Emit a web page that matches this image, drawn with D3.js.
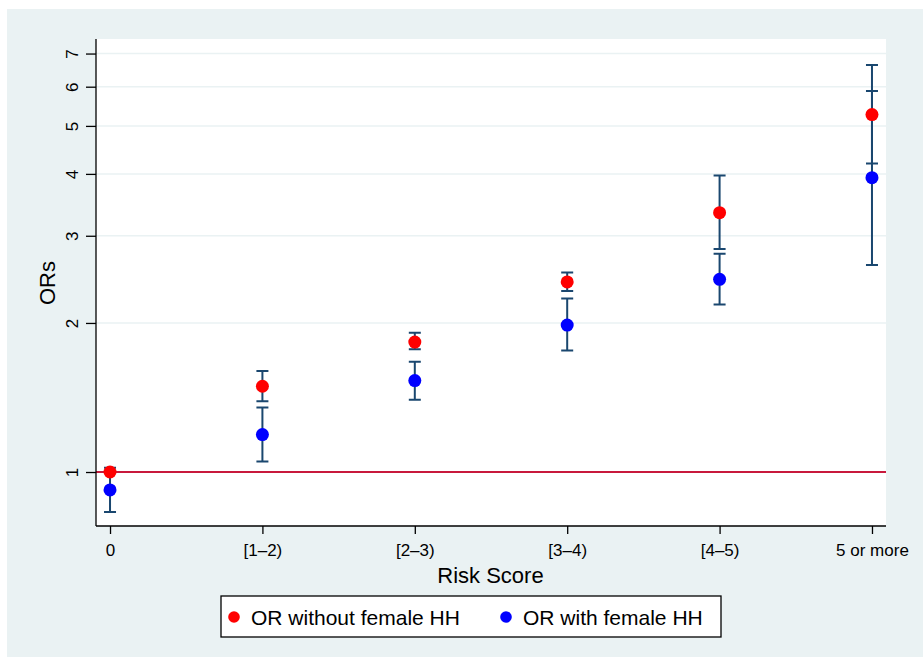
<!DOCTYPE html>
<meta charset="utf-8">
<style>
body { margin: 0; background: #fff; }
text { font-family: "Liberation Sans", Arial, Helvetica, sans-serif; fill: #000; }
.grid { stroke: #eaf2f3; stroke-width: 1.5px; }
.axisline { stroke: #000; stroke-width: 1.3px; }
.ref { stroke: #c8193c; stroke-width: 2px; }
.ci { stroke: #1a476f; stroke-width: 2px; fill: none; }
</style>
<body>
<script src="https://cdn.jsdelivr.net/npm/d3@7"></script>
<script>
var width = 923,
    height = 661;

// data
var categories = ["0", "[1\u20132)", "[2\u20133)", "[3\u20134)", "[4\u20135)", "5 or more"];
var orWithout   = [1.00, 1.49, 1.83, 2.42, 3.34, 5.27];
var loWithout   = [1.00, 1.39, 1.77, 2.32, 2.82, 4.20];
var hiWithout   = [1.00, 1.60, 1.91, 2.53, 3.97, 6.64];
var orWith      = [0.92, 1.19, 1.53, 1.98, 2.45, 3.93];
var loWith      = [0.83, 1.05, 1.40, 1.76, 2.18, 2.62];
var hiWith      = [1.02, 1.35, 1.67, 2.24, 2.76, 5.88];
var yTicks = [1, 2, 3, 4, 5, 6, 7];
var legendLabels = ["OR without female HH", "OR with female HH"];
var colors = ["#ff0000", "#0000ff"];

var plot = {left: 96, right: 886, top: 39, bottom: 526};

var x = d3.scaleLinear()
    .domain([-0.092, 5.092])
    .range([plot.left, plot.right]);

var y = d3.scaleLog()
    .domain([0.778, 7.49])
    .range([plot.bottom, plot.top]);

var svg = d3.select("body").append("svg")
    .attr("width", width)
    .attr("height", height);

// outer background
svg.append("rect")
    .attr("x", 7).attr("y", 9)
    .attr("width", width - 7).attr("height", 648)
    .attr("fill", "#eaf2f3");

svg.append("rect")
    .attr("x", plot.left).attr("y", plot.top)
    .attr("width", plot.right - plot.left)
    .attr("height", plot.bottom - plot.top)
    .attr("fill", "#fff");

// grid
svg.selectAll(".grid")
    .data(yTicks.filter(function(d) { return d > 1; }))
  .enter().append("line")
    .attr("class", "grid")
    .attr("x1", plot.left).attr("x2", plot.right)
    .attr("y1", function(d) { return y(d); })
    .attr("y2", function(d) { return y(d); });

// reference line at OR = 1
svg.append("line")
    .attr("class", "ref")
    .attr("x1", plot.left).attr("x2", plot.right)
    .attr("y1", y(1)).attr("y2", y(1));

// y axis
var yAxis = svg.append("g")
    .attr("transform", "translate(" + plot.left + ",0)")
    .call(d3.axisLeft(y).tickValues(yTicks).tickFormat(d3.format("d")).tickSize(10));
yAxis.select(".domain").remove();
yAxis.selectAll(".tick line").attr("stroke", "#000").attr("stroke-width", 1.3);
yAxis.selectAll(".tick text")
    .attr("transform", "rotate(-90)")
    .attr("x", 0).attr("y", -18).attr("dy", 0)
    .attr("text-anchor", "middle")
    .style("font-size", "17px");
svg.append("line")
    .attr("class", "axisline")
    .attr("x1", plot.left).attr("x2", plot.left)
    .attr("y1", plot.top).attr("y2", plot.bottom);

// x axis
var xAxis = svg.append("g")
    .attr("transform", "translate(0," + plot.bottom + ")")
    .call(d3.axisBottom(x).tickValues(d3.range(categories.length))
      .tickFormat(function(i) { return categories[i]; }).tickSize(8).tickPadding(6));
xAxis.select(".domain").remove();
xAxis.selectAll(".tick line").attr("stroke", "#000").attr("stroke-width", 1.3);
xAxis.selectAll(".tick text")
    .attr("dy", "0.95em")
    .style("font-size", "17px");
svg.append("line")
    .attr("class", "axisline")
    .attr("x1", plot.left).attr("x2", plot.right)
    .attr("y1", plot.bottom).attr("y2", plot.bottom);

// axis titles
svg.append("text")
    .attr("x", (plot.left + plot.right) / 2 - 0.5)
    .attr("y", 583)
    .attr("text-anchor", "middle")
    .style("font-size", "22px")
    .text("Risk Score");

svg.append("text")
    .attr("transform", "translate(55,283) rotate(-90)")
    .attr("text-anchor", "middle")
    .style("font-size", "22px")
    .text("ORs");

// error bars
var series = [
  {or: orWithout, lo: loWithout, hi: hiWithout, color: colors[0]},
  {or: orWith, lo: loWith, hi: hiWith, color: colors[1]}
];
var cap = 6;

series.forEach(function(s) {
  var g = svg.append("g");
  categories.forEach(function(c, i) {
    if (s.lo[i] === s.hi[i]) return;
    var cx = x(i);
    g.append("path")
        .attr("class", "ci")
        .attr("d", "M" + cx + "," + y(s.lo[i]) + "V" + y(s.hi[i]) +
                   "M" + (cx - cap) + "," + y(s.lo[i]) + "H" + (cx + cap) +
                   "M" + (cx - cap) + "," + y(s.hi[i]) + "H" + (cx + cap));
  });
});

// points
series.forEach(function(s) {
  svg.append("g").selectAll("circle")
      .data(s.or)
    .enter().append("circle")
      .attr("cx", function(d, i) { return x(i); })
      .attr("cy", function(d) { return y(d); })
      .attr("r", 6.5)
      .attr("fill", s.color);
});

// legend
var legend = svg.append("g");
legend.append("rect")
    .attr("x", 221).attr("y", 596)
    .attr("width", 500).attr("height", 41)
    .attr("fill", "#fff")
    .attr("stroke", "#000")
    .attr("stroke-width", 1.3);

var legendX = [234, 506];
legendLabels.forEach(function(l, i) {
  legend.append("circle")
      .attr("cx", legendX[i]).attr("cy", 617)
      .attr("r", 5.8)
      .attr("fill", colors[i]);
  legend.append("text")
      .attr("x", legendX[i] + 17).attr("y", 624.5)
      .style("font-size", "21px")
      .text(l);
});
</script>
